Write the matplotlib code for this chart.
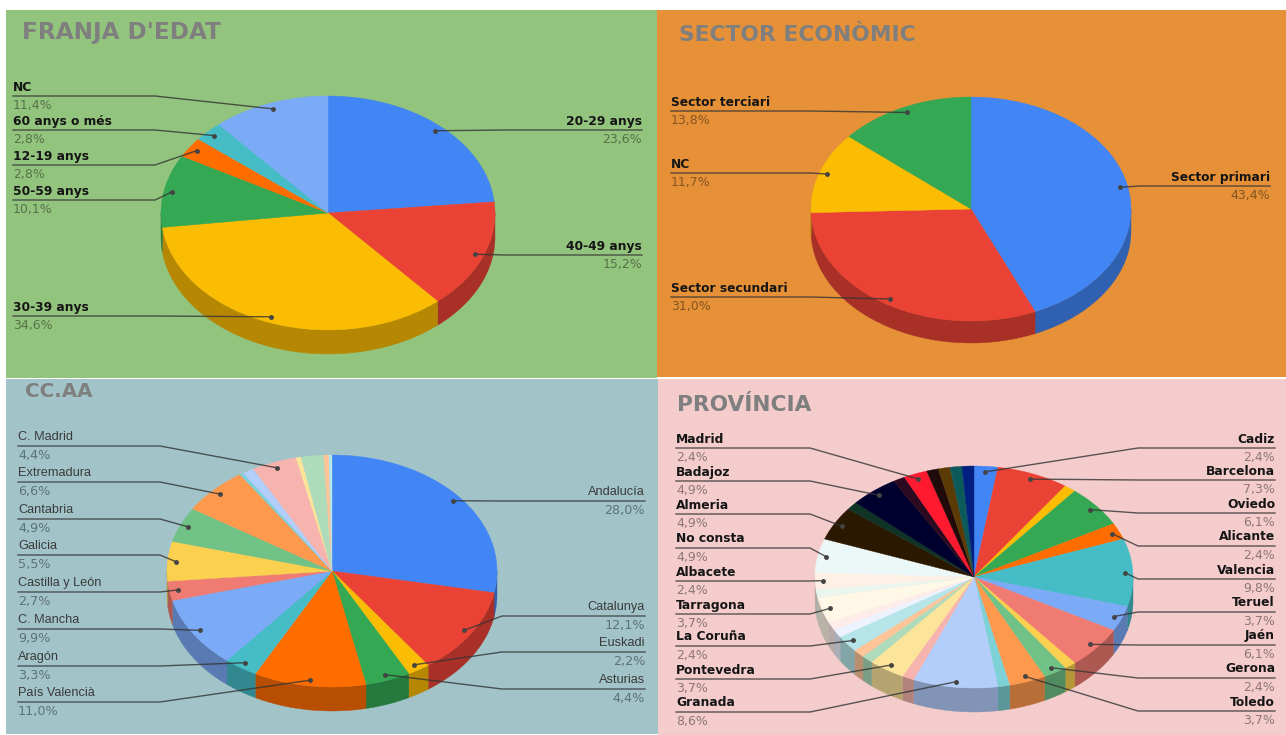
import numpy as np
import matplotlib
matplotlib.use("Agg")
import matplotlib.pyplot as plt
from matplotlib.colors import to_rgb
from matplotlib.patches import Rectangle

# data, clockwise from the top of each pie. empty name = slice without a label
franja_names = ["20-29 anys", "40-49 anys", "30-39 anys", "50-59 anys", "12-19 anys", "60 anys o més", "NC"]
franja_values = [23.6, 15.2, 34.6, 10.1, 2.8, 2.8, 11.4]

sector_names = ["Sector primari", "Sector secundari", "NC", "Sector terciari"]
sector_values = [43.4, 31.0, 11.7, 13.8]

ccaa_names = ["Andalucía", "Catalunya", "Euskadi", "Asturias", "País Valencià", "Aragón", "C. Mancha",
              "Castilla y León", "Galicia", "Cantabria", "Extremadura", "", "", "C. Madrid", "", "", "", ""]
ccaa_values = [28.0, 12.1, 2.2, 4.4, 11.0, 3.3, 9.9, 2.7, 5.5, 4.9, 6.6, 0.4, 1.1, 4.4, 0.5, 2.2, 0.5, 0.3]

prov_names = ["Cadiz", "Barcelona", "", "Oviedo", "Alicante", "Valencia", "Teruel", "Jaén", "", "Gerona",
              "Toledo", "", "Granada", "", "Pontevedra", "", "", "La Coruña", "", "", "Tarragona", "",
              "Albacete", "No consta", "Almeria", "", "Badajoz", "", "Madrid", "", "", "", ""]
prov_values = [2.4, 7.3, 1.2, 6.1, 2.4, 9.8, 3.7, 6.1, 1.2, 2.4, 3.7, 1.2, 8.6, 1.2, 3.7, 1.2, 1.2, 2.4,
               1.2, 1.2, 3.7, 1.2, 2.4, 4.9, 4.9, 1.2, 4.9, 1.2, 2.4, 1.2, 1.2, 1.2, 1.2]

palette = ["#4285F4", "#EA4335", "#FBBC04", "#34A853", "#FF6D01", "#46BDC6", "#7BAAF7", "#F07B72",
           "#FCD04F", "#71C287", "#FF994D", "#7ED1D7", "#B3CEFB", "#F7B4AE", "#FDE49B", "#AEDCBA",
           "#FFC599", "#B5E5E8", "#ECF3FE", "#FDECEA", "#FFF8E6", "#EBF6EE", "#FFF0E6", "#ECF8F8",
           "#2A1800", "#0F3325", "#00002E", "#2C0A1F", "#FF1A30", "#200A0A", "#5A3A05", "#0C5A5A", "#021F80"]

BOLD = dict(family="DejaVu Sans", fontweight="bold", fontsize=8.8, color="#151515")
PLAIN = dict(family="Liberation Sans", fontsize=9.2, color="#3a3a3a")


def draw_pie(ax, cx, cy, rx, ry, depth, names, values, line_left, line_right, x_left, x_right,
             elbow_left, elbow_right, style, value_size):
    vals = np.array(values, dtype=float)
    edges = np.concatenate([[0], np.cumsum(vals)]) / vals.sum() * 2 * np.pi

    # side wall first, only the front half shows
    for i, c in enumerate(palette[:len(vals)]):
        a0, a1 = max(edges[i], np.pi / 2), min(edges[i + 1], 1.5 * np.pi)
        if a1 <= a0:
            continue
        t = np.linspace(a0, a1, 40)
        x = cx + rx * np.sin(t)
        y = cy - ry * np.cos(t)
        ax.fill(np.r_[x, x[::-1]], np.r_[y, y[::-1] + depth], color=np.array(to_rgb(c)) * 0.72, lw=0.3, zorder=2)

    for i, c in enumerate(palette[:len(vals)]):
        t = np.linspace(edges[i], edges[i + 1], 40)
        ax.fill(np.r_[cx, cx + rx * np.sin(t)], np.r_[cy, cy - ry * np.cos(t)], color=c, lw=0.3, zorder=3)

    left = iter(line_left)
    right = iter(line_right)
    for i, name in enumerate(names):
        if not name:
            continue
        mid = (edges[i] + edges[i + 1]) / 2
        px = cx + 0.95 * rx * np.sin(mid)
        py = cy - 0.95 * ry * np.cos(mid)
        if mid > np.pi:
            ly, xs, xe, ha = next(left), x_left, elbow_left, "left"
        else:
            ly, xs, xe, ha = next(right), x_right, elbow_right, "right"
        ax.plot([xs, xe, px], [ly, ly, py], color="#333333", lw=1.0, alpha=0.8, zorder=4)
        ax.plot([px], [py], "o", ms=2.5, color="#444444", zorder=4)
        ax.text(xs, ly - 9, name, ha=ha, va="center", zorder=5, **style)
        ax.text(xs, ly + 9.5, ("%.1f" % values[i]).replace(".", ",") + "%",
                ha=ha, va="center", color="black", alpha=0.42, family="DejaVu Sans",
                fontsize=value_size, zorder=5)


fig = plt.figure(figsize=(12.86, 7.35), dpi=100)
ax = fig.add_axes([0, 0, 1, 1])
ax.set_xlim(0, 1286)
ax.set_ylim(735, 0)
ax.axis("off")

ax.add_patch(Rectangle((6, 10), 651, 368, color="#93C47D", lw=0))
ax.add_patch(Rectangle((657, 10), 629, 367, color="#E69138", lw=0))
ax.add_patch(Rectangle((6, 379), 652, 355, color="#A2C4C9", lw=0))
ax.add_patch(Rectangle((658, 379), 628, 356, color="#F4CCCC", lw=0))

title = dict(family="DejaVu Sans", fontweight="bold", va="center", color="#7F7F7F")
ax.text(22, 32, "FRANJA D'EDAT", fontsize=16.7, **title)
ax.text(679, 35, "SECTOR ECONÒMIC", fontsize=15.7, **title)
ax.text(25, 391, "CC.AA", fontsize=14.3, **title)
ax.text(677, 405, "PROVÍNCIA", fontsize=15.6, **title)

draw_pie(ax, 328, 213, 167, 117, 24, franja_names, franja_values,
         [316, 200, 165, 130, 96], [130, 255], 13, 642, 155, 505, BOLD, 9)
draw_pie(ax, 971, 209, 160, 112, 22, sector_names, sector_values,
         [297, 173, 111], [186], 671, 1270, 810, 1140, BOLD, 9)
draw_pie(ax, 332, 571, 165, 116, 24, ccaa_names, ccaa_values,
         [702, 666, 629, 592, 555, 519, 482, 446], [501, 616, 652, 689], 18, 645, 160, 502, PLAIN, 9.2)
draw_pie(ax, 974, 577, 159, 111, 24, prov_names, prov_values,
         [712, 679, 646, 614, 581, 548, 514, 481, 448], [448, 480, 513, 546, 579, 612, 645, 678, 711],
         676, 1275, 810, 1138, BOLD, 9)

fig.savefig("out.png", dpi=100)
